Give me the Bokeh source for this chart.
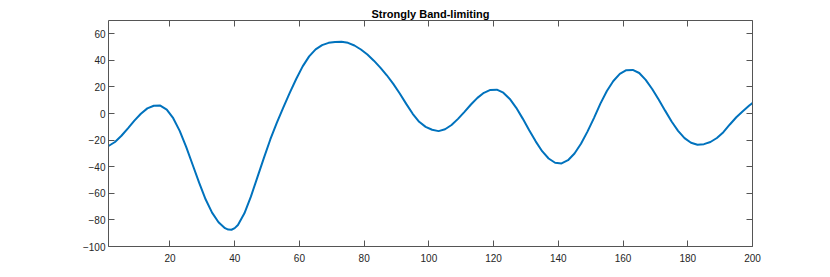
from bokeh.plotting import figure
from bokeh.models import LinearAxis, FixedTicker, Range1d
from bokeh.embed import file_html
from bokeh.resources import INLINE

# data
x_vals = [1, 3, 5, 7, 9, 11, 13, 15, 17, 19, 21, 23, 25, 27, 29, 31, 33, 35, 37, 38, 39, 40,
          41, 43, 45, 47, 49, 51, 53, 55, 57, 59, 61, 63, 65, 67, 69, 71, 73, 75, 77, 79,
          81, 83, 85, 87, 89, 91, 93, 95, 97, 99, 101, 103, 105, 107, 109, 111, 113, 115, 117, 119,
          121, 123, 125, 127, 129, 131, 133, 135, 137, 139, 141, 143, 145, 147, 149, 151, 153, 155, 157, 159,
          161, 163, 165, 167, 169, 171, 173, 175, 177, 179, 181, 183, 185, 187, 189, 191, 193, 195, 197, 199, 200]
y_vals = [-24.4, -21.4, -16.7, -11.1, -5.3, -0.1, 3.9, 5.9, 6.0, 3.0,
          -3.5, -13.0, -25.0, -38.5, -52.0, -64.5, -74.5, -81.8, -86.2, -87.3, -87.4, -86.2,
          -83.8, -75.0, -62.5, -48.0, -33.5, -19.5, -7.0, 4.5, 15.5, 26.0,
          35.5, 43.0, 48.3, 51.5, 53.2, 53.9, 54.0, 53.2, 51.2, 48.2,
          44.4, 39.8, 34.6, 28.8, 22.3, 15.1, 7.3, -0.2, -6.2, -10.0,
          -12.2, -13.2, -11.8, -8.6, -4.0, 1.3, 6.8, 11.8, 15.6, 17.8,
          18.0, 15.7, 11.0, 4.3, -3.8, -12.5, -20.9, -28.3, -33.8, -37.0,
          -37.5, -35.1, -30.0, -22.7, -13.6, -3.4, 7.5, 17.0, 24.5, 29.8,
          32.6, 32.8, 30.5, 25.3, 18.5, 10.5, 2.2, -6.0, -13.0, -18.5,
          -22.0, -23.4, -23.0, -21.4, -18.4, -14.0, -8.2, -2.8, 1.8, 6.0, 7.9]
x_ticks = [20, 40, 60, 80, 100, 120, 140, 160, 180, 200]
y_ticks = [-100, -80, -60, -40, -20, 0, 20, 40, 60]
title_text = "Strongly Band-limiting"

FONT = "Liberation Sans"
AX = "#555555"

p = figure(width=830, height=277, output_backend="svg", toolbar_location=None,
           x_range=Range1d(1, 200), y_range=Range1d(-100, 70),
           min_border_left=108, min_border_right=78, min_border_top=20, min_border_bottom=31,
           x_axis_location=None, y_axis_location=None)
p.grid.visible = False
p.outline_line_color = None
p.background_fill_color = "white"
p.border_fill_color = "white"

p.title.text = title_text
p.title.align = "center"
p.title.text_font = FONT
p.title.text_font_size = "11px"
p.title.text_font_style = "bold"
p.title.text_color = "#000000"
p.title.offset = 0
p.title.standoff = 2

def make_axis(ticks, labels=True):
    ax = LinearAxis(ticker=FixedTicker(ticks=ticks))
    ax.axis_line_color = AX
    ax.axis_line_width = 1
    ax.major_tick_line_color = AX
    ax.major_tick_in = 6
    ax.major_tick_out = 0
    ax.minor_tick_line_color = None
    ax.major_label_text_font = FONT
    if labels:
        ax.major_label_text_font_size = "10px"
        ax.major_label_text_color = "#262626"
        ax.major_label_standoff = 4
    else:
        ax.major_label_text_font_size = "1px"
        ax.major_label_text_color = None
        ax.major_label_standoff = 0
    return ax

xb = make_axis(x_ticks)
xb.major_label_standoff = 7
p.add_layout(xb, "below")
yl = make_axis(y_ticks)
yl.major_label_standoff = 3
p.add_layout(yl, "left")
xt = make_axis(x_ticks, labels=False)
p.add_layout(xt, "above")
yr = make_axis(y_ticks, labels=False)
p.add_layout(yr, "right")

p.line(x_vals, y_vals, line_color="#0072BD", line_width=2)

open("out.html", "w").write(file_html(p, INLINE))
